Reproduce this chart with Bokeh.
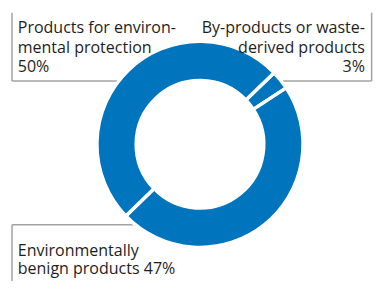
import math
from bokeh.plotting import figure
from bokeh.models import Range1d, ColumnDataSource
from bokeh.core.properties import value
from bokeh.embed import file_html
from bokeh.resources import INLINE

# ---- data ----
categories = ["By-products or waste-derived products",
              "Environmentally benign products",
              "Products for environmental protection"]
shares = [3, 47, 50]
label_lines = [
    ["By-products or waste-", "derived products", f"{shares[0]}%"],
    ["Environmentally", f"benign products {shares[1]}%"],
    ["Products for environ-", "mental protection", f"{shares[2]}%"],
]

BLUE = "#0074BC"
GREY = "#a3a3a3"
TEXT = "#1e1e1e"
FONT = "Open Sans"
FS = "16px"

# layout space = reference picture (390 x 297), scaled into the figure
W, H = 374, 281
p = figure(width=W, height=H, output_backend="svg", toolbar_location=None,
           x_range=Range1d(0, 390), y_range=Range1d(-297, 0),
           min_border=0)
p.axis.visible = False
p.grid.visible = False
p.outline_line_color = None

# ---- connector / box lines (drawn under the donut) ----
p.segment(x0=[12, 12], y0=[-13, -85], x1=[12, 150], y1=[-85, -85],
          line_color=GREY, line_width=1.5)
p.segment(x0=[387, 270], y0=[-13, -85], x1=[387, 387], y1=[-85, -85],
          line_color=GREY, line_width=1.5)
p.segment(x0=[12, 12], y0=[-237, -237], x1=[12, 170], y1=[-310, -237],
          line_color=GREY, line_width=1.5)

# ---- donut ----
cx, cy = 208, -152
start_bearing = 46.0
starts, ends = [], []
b = start_bearing
for s in shares:
    b2 = b + s / 100.0 * 360.0
    starts.append(math.radians(90.0 - b2))
    ends.append(math.radians(90.0 - b))
    b = b2
src = ColumnDataSource(dict(cat=categories, share=shares, start=starts, end=ends))
p.annular_wedge(x=cx, y=cy, inner_radius=66.5, outer_radius=107.5,
                start_angle="start", end_angle="end",
                source=src, fill_color=BLUE, line_color="white", line_width=3.5)

# ---- labels ----
def put(lines, x, y0, align, step=20.5):
    ys = [y0 - i * step for i in range(len(lines))]
    p.text(x=[x] * len(lines), y=ys, text=lines, text_align=align,
           text_baseline="alphabetic", text_font=value(FONT),
           text_font_size=FS, text_color=TEXT)

put(label_lines[2], 18, -28.5, "left")
put(label_lines[0], 380, -28.5, "right")
put(label_lines[1], 18, -264, "left", step=18.5)

open("out.html", "w").write(file_html(p, INLINE))
